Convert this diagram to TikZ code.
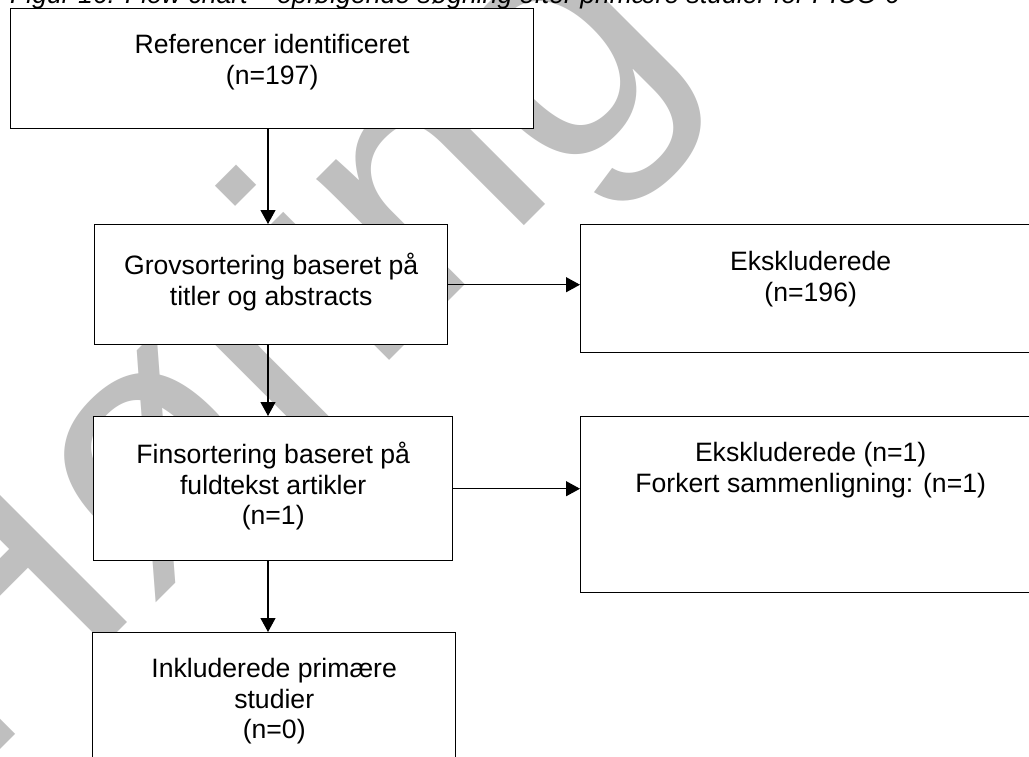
\documentclass[tikz,border=0pt]{standalone}
\usepackage{fontspec}
\setmainfont{Liberation Sans}
\usetikzlibrary{arrows.meta}
\begin{document}
\begin{tikzpicture}[x=1pt,y=-1pt,
  box/.style={draw=black, line width=1.4pt, fill=white, rectangle, inner sep=0pt, anchor=north west},
  boxtext/.style={anchor=north, align=center, inner sep=0pt, font=\fontsize{26.6}{30.6}\selectfont},
  flow/.style={line width=1.1pt, -{Triangle[length=14pt,width=15pt]}},
]
\useasboundingbox (0,0) rectangle (1029,756);
\clip (0,0) rectangle (1029,756);
\fill[white] (0,0) rectangle (1029,756);

% draft watermark behind the chart
\node[text=black!25, rotate=45, font=\fontsize{340}{340}\selectfont, anchor=base west, inner sep=0pt] (wm) at (-27,777) {Høring};

% figure caption (top edge trimmed)
\node[anchor=base west, inner sep=0pt, font=\itshape\fontsize{26.6}{30}\selectfont] (cap) at (10,3) {Figur 16: Flow chart – opfølgende søgning efter primære studier for PICO 6};

% boxes
\node[box, minimum width=523pt, minimum height=120pt] (ref) at (10,8) {};
\node[boxtext] (reft) at ([yshift=-26pt]ref.north) {Referencer identificeret\\(n=197)};

\node[box, minimum width=353pt, minimum height=120pt] (grov) at (94,224) {};
\node[boxtext] (grovt) at ([yshift=-29pt]grov.north) {Grovsortering baseret på\\titler og abstracts};

\node[box, minimum width=359pt, minimum height=144pt] (fin) at (93,416) {};
\node[boxtext] (fint) at ([yshift=-26pt]fin.north) {Finsortering baseret på\\fuldtekst artikler\\(n=1)};

\node[box, minimum width=363pt, minimum height=150pt] (inkl) at (92,632) {};
\node[boxtext] (inklt) at ([yshift=-26pt]inkl.north) {Inkluderede primære\\studier\\(n=0)};

\node[box, minimum width=460pt, minimum height=128pt] (eks1) at (580,224) {};
\node[boxtext] (eks1t) at ([yshift=-27pt]eks1.north) {Ekskluderede\\(n=196)};

\node[box, minimum width=460pt, minimum height=176pt] (eks2) at (580,416) {};
\node[boxtext] (eks2t) at ([yshift=-26pt]eks2.north) {Ekskluderede (n=1)\\Forkert sammenligning: (n=1)};

% connectors
\coordinate (spine) at (268,0);
\draw[flow] (ref.south -| spine) -- (grov.north -| spine);
\draw[flow] (grov.south -| spine) -- (fin.north -| spine);
\draw[flow] (fin.south -| spine) -- (inkl.north -| spine);
\draw[flow] (grov.east) -- (grov.east -| eks1.west);
\draw[flow] (fin.east) -- (fin.east -| eks2.west);
\end{tikzpicture}
\end{document}
